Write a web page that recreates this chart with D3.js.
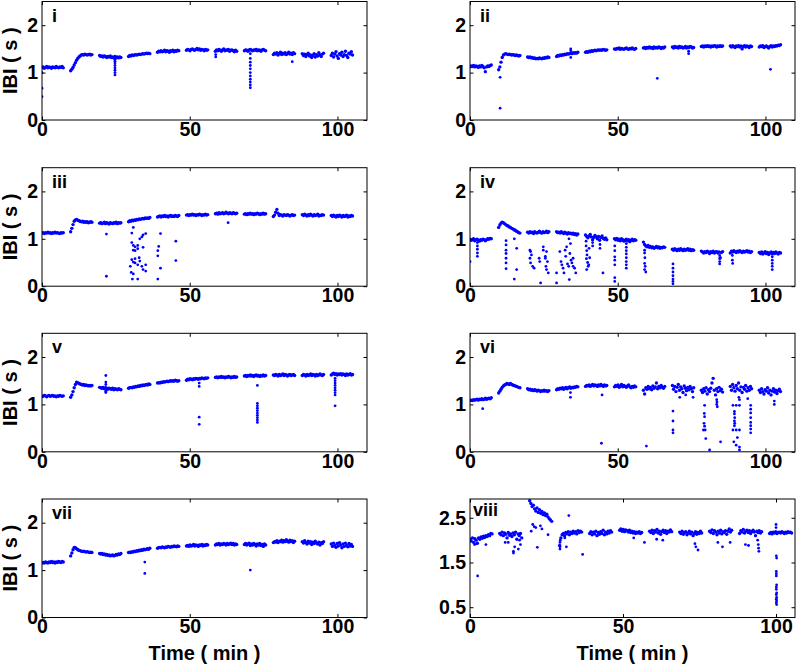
<!DOCTYPE html>
<html><head><meta charset="utf-8">
<script src="https://cdn.jsdelivr.net/npm/d3@7"></script>
<style>
body{margin:0;background:#fff}
svg{display:block}
text{font-family:"Liberation Sans",Arial,sans-serif;font-weight:bold;fill:#000}
</style>
</head><body>
<svg id="chart" width="796" height="669"></svg>
<script>
// Recording segments: start time (min) of each segment, samples every 0.4 min
const segStart = [0, 9.7, 19.5, 29.3, 39.1, 48.9, 58.7, 68.5, 78.3, 88.1, 97.9];
const sampleStep = 0.4;
const xTicks = [0, 50, 100];
const yTicksStd = [0, 1, 2];
const yTicksViii = [0.5, 1.5, 2.5];
const panelNames = ["i","ii","iii","iv","v","vi","vii","viii"];

const band_i = [
 [1.10,1.12,1.09,1.11,1.13,1.10,1.12,1.11,1.09,1.12,1.11,1.10,1.13,1.11,1.10,1.12,1.11,1.13,1.10],
 [1.04,1.07,1.11,1.16,1.21,1.26,1.30,1.33,1.35,1.37,1.38,1.37,1.39,1.38,1.37,1.38,1.39,1.37,1.38],
 [1.36,1.34,1.35,1.33,1.35,1.34,1.32,1.34,1.33,1.35,1.32,1.33,1.31,1.34,1.32,1.33,1.31,1.33,1.32],
 [1.34,1.36,1.35,1.37,1.36,1.37,1.38,1.37,1.38,1.39,1.38,1.39,1.40,1.39,1.40,1.41,1.40,1.41,1.40],
 [1.43,1.45,1.44,1.46,1.44,1.45,1.47,1.44,1.46,1.45,1.43,1.46,1.45,1.47,1.44,1.46,1.45,1.47,1.46],
 [1.47,1.49,1.48,1.46,1.49,1.50,1.48,1.47,1.49,1.51,1.48,1.50,1.47,1.49,1.48,1.46,1.49,1.47,1.48],
 [1.45,1.48,1.46,1.49,1.47,1.45,1.48,1.50,1.46,1.48,1.47,1.49,1.45,1.47,1.48,1.46,1.44,1.47,1.45],
 [1.46,1.48,1.47,1.45,1.48,1.49,1.47,1.46,1.48,1.47,1.49,1.46,1.48,1.47,1.45,1.48,1.49,1.47,1.46],
 [1.38,1.41,1.39,1.42,1.37,1.40,1.43,1.38,1.41,1.39,1.42,1.38,1.40,1.43,1.39,1.41,1.38,1.42,1.40],
 [1.40,1.36,1.39,1.34,1.38,1.41,1.35,1.37,1.32,1.36,1.40,1.33,1.38,1.35,1.42,1.37,1.34,1.39,1.41],
 [1.36,1.41,1.33,1.39,1.44,1.35,1.30,1.40,1.37,1.43,1.34,1.38,1.45,1.36,1.32,1.41,1.39,1.44,1.37]
];
const out_i = [[0,0.49],[0,0.67],[0,1.0],[24.7,1.28],[24.7,1.24],[24.7,1.20],[24.7,1.15],[24.7,1.10],[24.7,1.05],[24.7,1.0],[24.7,0.95],
 [58.8,1.33],[58.8,1.38],[70.5,1.40],[70.5,1.30],[70.5,1.22],[70.5,1.15],[70.5,1.08],[70.5,1.0],[70.5,0.93],[70.5,0.86],[70.5,0.80],[70.5,0.74],[70.5,0.68],[84.7,1.23]];

const band_ii = [
 [1.12,1.14,1.13,1.15,1.12,1.14,1.13,1.11,1.14,1.12,1.15,1.13,1.10,1.02,1.12,1.14,1.13,1.15,1.16],
 [1.06,1.12,1.22,1.32,1.37,1.39,1.40,1.39,1.38,1.39,1.38,1.37,1.38,1.37,1.36,1.37,1.36,1.35,1.36],
 [1.33,1.32,1.33,1.31,1.32,1.30,1.31,1.29,1.30,1.29,1.31,1.30,1.29,1.31,1.30,1.32,1.31,1.33,1.32],
 [1.34,1.36,1.35,1.37,1.36,1.38,1.37,1.39,1.38,1.40,1.39,1.40,1.41,1.40,1.42,1.41,1.42,1.41,1.43],
 [1.43,1.44,1.43,1.45,1.44,1.46,1.45,1.46,1.47,1.46,1.47,1.48,1.47,1.48,1.47,1.49,1.48,1.47,1.48],
 [1.50,1.49,1.51,1.50,1.52,1.49,1.51,1.50,1.49,1.51,1.52,1.50,1.49,1.51,1.50,1.52,1.50,1.49,1.51],
 [1.52,1.53,1.51,1.53,1.52,1.54,1.52,1.53,1.51,1.54,1.52,1.53,1.52,1.54,1.53,1.51,1.53,1.52,1.54],
 [1.54,1.52,1.55,1.53,1.54,1.52,1.55,1.53,1.54,1.52,1.53,1.55,1.52,1.54,1.53,1.55,1.54,1.52,1.53],
 [1.55,1.56,1.54,1.56,1.55,1.57,1.55,1.56,1.54,1.56,1.55,1.57,1.56,1.54,1.56,1.55,1.57,1.55,1.56],
 [1.56,1.54,1.57,1.55,1.53,1.56,1.55,1.57,1.54,1.56,1.50,1.55,1.57,1.54,1.56,1.55,1.53,1.56,1.55],
 [1.54,1.56,1.55,1.57,1.53,1.55,1.56,1.54,1.52,1.55,1.57,1.54,1.56,1.55,1.57,1.56,1.58,1.57,1.59]
];
const out_ii = [[10.2,0.90],[10.2,0.25],[34.1,1.32],[34.1,1.46],[34.1,1.50],[63.4,0.88],[74.0,1.45],[74.0,1.40],[101.7,1.07]];

const band_iii = [
 [1.12,1.13,1.11,1.13,1.12,1.14,1.12,1.13,1.11,1.13,1.12,1.14,1.12,1.13,1.12,1.11,1.13,1.12,1.13],
 [1.15,1.22,1.30,1.37,1.40,1.41,1.39,1.38,1.37,1.36,1.37,1.35,1.36,1.35,1.36,1.34,1.35,1.36,1.35],
 [1.33,1.34,1.32,1.33,1.35,1.32,1.34,1.33,1.31,1.34,1.33,1.32,1.34,1.33,1.35,1.32,1.34,1.33,1.34],
 [1.36,1.38,1.37,1.39,1.38,1.40,1.39,1.41,1.40,1.42,1.41,1.42,1.43,1.42,1.44,1.43,1.44,1.43,1.45],
 [1.46,1.47,1.48,1.46,1.48,1.47,1.49,1.47,1.48,1.46,1.48,1.49,1.47,1.48,1.47,1.49,1.48,1.47,1.49],
 [1.50,1.51,1.49,1.51,1.50,1.52,1.50,1.51,1.49,1.51,1.50,1.52,1.51,1.49,1.51,1.50,1.52,1.50,1.51],
 [1.53,1.54,1.52,1.55,1.53,1.54,1.55,1.53,1.54,1.56,1.54,1.53,1.55,1.54,1.53,1.55,1.54,1.53,1.54],
 [1.52,1.53,1.51,1.53,1.52,1.54,1.52,1.53,1.51,1.53,1.52,1.54,1.53,1.51,1.53,1.52,1.54,1.52,1.53],
 [1.47,1.50,1.56,1.62,1.54,1.49,1.51,1.50,1.48,1.51,1.50,1.49,1.51,1.50,1.48,1.50,1.51,1.49,1.50],
 [1.51,1.49,1.52,1.50,1.48,1.51,1.49,1.52,1.50,1.48,1.51,1.49,1.50,1.52,1.48,1.50,1.49,1.51,1.50],
 [1.49,1.47,1.50,1.48,1.46,1.49,1.47,1.50,1.48,1.46,1.49,1.47,1.48,1.50,1.46,1.48,1.47,1.49,1.48]
];
const out_iii = [[21.8,1.10],[21.8,0.21],[30.9,1.24],[30.4,1.12],[34.2,1.08],[35.1,1.11],[33.8,1.04],[33.1,1.0],[30.4,0.92],[30.9,0.86],
 [31.5,0.83],[32.4,0.86],[32.4,0.79],[30.9,0.76],[31.5,0.75],[34.2,0.82],[30.4,0.56],[31.5,0.58],[30.9,0.51],[31.5,0.49],[32.4,0.45],
 [33.1,0.53],[33.8,0.42],[34.2,0.35],[35.1,0.32],[35.1,0.45],[29.9,0.42],[30.2,0.29],[30.9,0.26],[30.6,0.15],[32.4,0.15],[32.9,0.60],
 [40.1,1.11],[39.2,0.75],[39.5,0.84],[39.2,0.64],[40.1,0.38],[39.2,0.15],[45.3,0.95],[45.3,0.54],[63.0,1.34]];

const band_iv = [
 [0.99,0.97,0.98,1.00,0.96,0.98,0.99,0.97,0.95,0.98,0.97,0.99,0.98,0.96,0.98,1.00,0.99,1.01,1.00],
 [1.24,1.29,1.33,1.35,1.34,1.32,1.30,1.28,1.27,1.25,1.24,1.22,1.21,1.19,1.18,1.16,1.15,1.13,1.12],
 [1.14,1.12,1.15,1.13,1.14,1.11,1.15,1.13,1.12,1.14,1.16,1.13,1.12,1.15,1.13,1.14,1.16,1.13,1.15],
 [1.15,1.13,1.14,1.12,1.15,1.13,1.11,1.14,1.12,1.10,1.13,1.11,1.12,1.10,1.12,1.09,1.11,1.08,1.10],
 [1.08,1.05,1.02,1.06,1.09,1.04,0.98,1.03,1.07,1.04,1.00,1.05,0.97,1.03,1.06,1.01,0.99,1.02,0.98],
 [1.00,0.98,1.01,0.97,0.99,0.96,1.00,0.98,0.95,0.97,0.99,0.96,0.98,0.94,0.97,0.99,0.96,0.98,0.97],
 [0.93,0.88,0.85,0.83,0.86,0.82,0.84,0.81,0.83,0.80,0.82,0.84,0.81,0.83,0.80,0.82,0.81,0.83,0.82],
 [0.78,0.76,0.79,0.77,0.75,0.78,0.76,0.79,0.77,0.75,0.78,0.76,0.77,0.79,0.76,0.78,0.75,0.77,0.76],
 [0.74,0.72,0.70,0.73,0.71,0.74,0.72,0.69,0.73,0.71,0.74,0.70,0.72,0.73,0.70,0.72,0.60,0.71,0.73],
 [0.70,0.74,0.72,0.75,0.73,0.71,0.74,0.72,0.75,0.73,0.71,0.74,0.72,0.73,0.75,0.72,0.74,0.71,0.73],
 [0.71,0.69,0.72,0.68,0.70,0.73,0.69,0.71,0.67,0.70,0.72,0.68,0.71,0.69,0.72,0.70,0.68,0.71,0.70]
];
const out_iv = [[0,0.52],[2.5,0.92],[2.5,0.85],[2.5,0.78],[2.5,0.70],[2.5,0.63],
 [12.2,0.96],[12.2,0.87],[12.2,0.76],[12.2,0.69],[12.2,0.59],[12.2,0.49],[12.2,0.37],[15.8,0.80],[15.8,0.35],[15.0,0.15],[15.0,1.0],
 [20.3,0.76],[20.8,0.66],[20.3,0.59],[20.5,0.49],[21.2,0.42],[21.7,0.38],[20.5,0.73],[23.4,0.59],[23.6,0.52],[23.9,0.07],[24.8,0.83],
 [24.8,0.76],[25.5,0.59],[25.9,0.73],[25.7,0.42],[26.2,0.52],[25.9,0.35],[26.5,0.28],[25.5,0.63],
 [29.3,0.28],[29.3,0.07],[30.4,0.73],[30.8,0.52],[31.1,0.45],[31.5,0.38],[31.8,0.28],[32.2,0.76],[32.4,0.63],[32.7,0.83],[33.0,0.47],
 [33.4,0.42],[33.6,0.14],[33.8,0.69],[34.2,0.55],[34.5,0.49],[34.9,0.42],[34.9,0.59],[35.4,0.38],[35.8,0.28],[34.0,0.90],[33.5,1.0],
 [39.3,0.95],[39.3,0.85],[39.5,0.75],[39.6,0.66],[39.4,0.58],[39.8,0.50],[40.0,0.42],[39.5,0.35],[40.3,0.80],[40.5,0.60],[40.2,0.45],
 [41.5,0.92],[41.5,0.85],[44.0,0.88],[44.0,0.80],[45.0,0.28],
 [49.0,0.85],[49.0,0.75],[49.0,0.62],[49.0,0.55],[49.0,0.45],[49.0,0.18],[49.0,0.10],
 [52.9,0.90],[52.9,0.82],[52.9,0.75],[52.9,0.68],[52.9,0.60],[52.9,0.52],[52.9,0.45],[52.9,0.38],
 [59.1,0.76],[59.1,0.70],[59.2,0.60],[59.1,0.48],[59.3,0.42],[59.1,0.35],[59.5,0.30],
 [68.7,0.47],[68.7,0.38],[68.7,0.30],[68.7,0.22],[68.7,0.15],[68.7,0.10],[68.7,0.05],
 [84.5,0.65],[84.5,0.58],[84.5,0.52],[84.5,0.47],[88.8,0.65],[88.8,0.55],[88.9,0.48],
 [102.3,0.62],[102.3,0.55],[102.3,0.48],[102.3,0.42],[102.3,0.35]];

const band_v = [
 [1.18,1.17,1.19,1.18,1.16,1.18,1.19,1.17,1.18,1.19,1.17,1.18,1.16,1.18,1.17,1.19,1.18,1.17,1.18],
 [1.15,1.20,1.27,1.35,1.42,1.47,1.46,1.44,1.43,1.42,1.41,1.42,1.40,1.41,1.40,1.39,1.40,1.39,1.40],
 [1.36,1.35,1.34,1.36,1.33,1.35,1.34,1.32,1.34,1.33,1.32,1.34,1.31,1.33,1.32,1.31,1.33,1.32,1.31],
 [1.34,1.35,1.36,1.35,1.37,1.36,1.38,1.37,1.39,1.38,1.40,1.39,1.41,1.40,1.41,1.42,1.41,1.43,1.42],
 [1.45,1.46,1.45,1.47,1.46,1.48,1.47,1.48,1.49,1.48,1.49,1.50,1.49,1.50,1.49,1.51,1.50,1.49,1.50],
 [1.51,1.53,1.52,1.54,1.53,1.52,1.54,1.53,1.55,1.54,1.53,1.55,1.54,1.56,1.55,1.54,1.56,1.55,1.56],
 [1.57,1.58,1.56,1.58,1.57,1.59,1.57,1.58,1.56,1.58,1.57,1.59,1.58,1.56,1.58,1.57,1.59,1.57,1.58],
 [1.60,1.61,1.59,1.61,1.60,1.62,1.60,1.61,1.59,1.61,1.62,1.60,1.61,1.59,1.61,1.60,1.62,1.60,1.61],
 [1.62,1.61,1.63,1.62,1.60,1.63,1.61,1.62,1.64,1.61,1.63,1.62,1.60,1.62,1.63,1.61,1.62,1.63,1.61],
 [1.61,1.63,1.62,1.60,1.63,1.61,1.62,1.64,1.61,1.63,1.62,1.60,1.63,1.61,1.62,1.64,1.62,1.61,1.63],
 [1.62,1.64,1.66,1.63,1.65,1.62,1.64,1.63,1.65,1.62,1.64,1.63,1.61,1.64,1.62,1.63,1.65,1.62,1.63]
];
const out_v = [[21.6,1.25],[21.6,1.28],[21.6,1.42],[21.6,1.47],[21.6,1.61],[53.2,1.45],[53.2,1.38],[53.2,0.73],[53.2,0.58],
 [72.9,1.40],[72.9,1.02],[72.9,0.97],[72.9,0.92],[72.9,0.87],[72.9,0.82],[72.9,0.77],[72.9,0.72],[72.9,0.67],[72.9,0.62],
 [99.2,1.55],[99.2,1.50],[99.2,1.45],[99.2,1.40],[99.2,1.35],[99.2,1.30],[99.2,1.25],[99.2,1.20],[99.2,0.97]];

const band_vi = [
 [1.08,1.09,1.08,1.10,1.09,1.10,1.11,1.09,1.11,1.10,1.12,1.10,1.11,1.13,1.11,1.12,1.13,1.12,1.14],
 [1.24,1.28,1.32,1.36,1.39,1.41,1.42,1.44,1.43,1.42,1.44,1.42,1.41,1.40,1.39,1.38,1.37,1.36,1.35],
 [1.33,1.31,1.32,1.30,1.31,1.29,1.31,1.30,1.28,1.30,1.29,1.27,1.29,1.28,1.30,1.28,1.29,1.27,1.29],
 [1.31,1.33,1.32,1.34,1.33,1.35,1.32,1.34,1.36,1.33,1.35,1.37,1.34,1.36,1.35,1.37,1.36,1.38,1.37],
 [1.38,1.40,1.39,1.41,1.38,1.40,1.42,1.39,1.41,1.40,1.38,1.41,1.39,1.42,1.40,1.38,1.41,1.39,1.40],
 [1.37,1.40,1.38,1.41,1.36,1.39,1.42,1.37,1.40,1.38,1.36,1.39,1.41,1.37,1.35,1.38,1.36,1.39,1.37],
 [1.30,1.22,1.35,1.32,1.38,1.33,1.36,1.31,1.39,1.34,1.37,1.45,1.33,1.38,1.35,1.40,1.36,1.34,1.38],
 [1.40,1.32,1.38,1.27,1.36,1.42,1.30,1.37,1.33,1.25,1.39,1.34,1.29,1.36,1.31,1.38,1.33,1.27,1.35],
 [1.30,1.25,1.33,1.28,1.35,1.22,1.31,1.27,1.34,1.45,1.55,1.30,1.20,1.33,1.27,1.36,1.29,1.32,1.26],
 [1.38,1.30,1.42,1.35,1.28,1.40,1.33,1.45,1.30,1.37,1.25,1.36,1.32,1.40,1.28,1.35,1.30,1.38,1.33],
 [1.30,1.25,1.33,1.27,1.22,1.31,1.28,1.35,1.24,1.30,1.20,1.28,1.33,1.26,1.30,1.23,1.29,1.32,1.27]
];
const out_vi = [[4.3,0.91],[34.0,1.15],[34.0,1.25],[44.7,1.20],[44.5,0.18],[59.7,0.12],[71.0,1.15],[73.0,1.20],[75.5,1.15],
 [68.7,0.86],[68.7,0.65],[68.7,0.46],[68.7,0.40],[83.5,1.10],[83.6,1.05],[83.5,1.0],[83.7,0.95],
 [79.4,0.98],[79.3,0.81],[79.4,0.74],[79.2,0.60],[79.4,0.54],[79.0,0.46],[79.6,0.46],[79.8,0.28],[81.1,0.04],[84.8,0.21],
 [91.0,1.15],[91.2,1.10],[94.0,1.12],[89.0,0.98],[90.1,0.98],[91.2,0.98],[89.5,0.85],[89.5,0.80],[89.6,0.72],[89.5,0.65],
 [89.6,0.60],[89.5,0.55],[89.0,0.46],[90.1,0.46],[91.2,0.46],[89.3,0.21],[90.1,0.14],[91.2,0.10],[91.2,0.04],[90.5,0.30],
 [95.0,0.98],[95.0,0.90],[95.0,0.82],[95.0,0.72],[95.0,0.62],[95.0,0.55],[95.0,0.48],[95.0,0.40],[103.0,1.0],[103.0,1.07]];

const band_vii = [
 [1.15,1.16,1.15,1.17,1.16,1.15,1.17,1.16,1.18,1.16,1.17,1.15,1.17,1.16,1.18,1.17,1.16,1.18,1.17],
 [1.30,1.36,1.43,1.48,1.47,1.45,1.43,1.42,1.41,1.40,1.39,1.40,1.39,1.38,1.39,1.38,1.37,1.38,1.37],
 [1.35,1.34,1.35,1.33,1.34,1.32,1.33,1.31,1.32,1.30,1.31,1.32,1.30,1.31,1.33,1.32,1.34,1.33,1.35],
 [1.37,1.38,1.37,1.39,1.38,1.40,1.39,1.41,1.40,1.42,1.41,1.43,1.42,1.44,1.43,1.44,1.45,1.44,1.46],
 [1.46,1.47,1.48,1.47,1.49,1.48,1.47,1.49,1.48,1.50,1.49,1.48,1.50,1.49,1.51,1.50,1.49,1.51,1.50],
 [1.51,1.52,1.50,1.53,1.51,1.52,1.54,1.51,1.53,1.52,1.50,1.53,1.52,1.54,1.51,1.53,1.52,1.54,1.53],
 [1.53,1.55,1.54,1.56,1.53,1.55,1.54,1.56,1.55,1.53,1.56,1.54,1.55,1.57,1.54,1.56,1.53,1.55,1.54],
 [1.54,1.56,1.53,1.55,1.57,1.52,1.55,1.53,1.56,1.54,1.51,1.55,1.53,1.56,1.52,1.54,1.50,1.55,1.53],
 [1.58,1.60,1.59,1.62,1.58,1.61,1.60,1.63,1.59,1.62,1.60,1.64,1.61,1.59,1.63,1.60,1.62,1.58,1.61],
 [1.60,1.57,1.62,1.58,1.55,1.61,1.57,1.60,1.54,1.59,1.56,1.61,1.57,1.55,1.59,1.53,1.58,1.56,1.60],
 [1.55,1.50,1.57,1.52,1.48,1.56,1.51,1.58,1.53,1.47,1.55,1.50,1.57,1.52,1.49,1.56,1.51,1.54,1.50]
];
const out_vii = [[34.8,1.17],[34.8,0.93],[70.5,1.0]];

const band_viii = [
 [2.02,1.98,2.05,1.95,2.03,2.00,1.93,2.05,2.02,2.07,2.04,2.09,2.06,2.10,2.08,2.12,2.10,2.15,2.14],
 [2.15,2.12,2.18,2.10,2.16,2.13,2.05,2.17,2.11,2.14,2.08,2.16,2.12,2.18,2.02,2.14,2.10,2.15,2.05],
 [2.88,2.82,2.75,2.78,2.70,2.65,2.72,2.62,2.68,2.60,2.64,2.57,2.61,2.55,2.58,2.52,2.48,2.45,2.42],
 [1.88,2.05,2.12,2.15,2.10,2.17,2.14,2.19,2.12,2.18,2.15,2.20,2.16,2.19,2.14,2.21,2.17,2.20,2.18],
 [2.15,2.19,2.12,2.18,2.14,2.20,2.10,2.17,2.13,2.19,2.15,2.22,2.12,2.18,2.14,2.20,2.16,2.21,2.18],
 [2.22,2.25,2.20,2.24,2.19,2.23,2.21,2.18,2.22,2.17,2.20,2.16,2.19,2.15,2.18,2.16,2.19,2.15,2.17],
 [2.20,2.17,2.22,2.15,2.21,2.18,2.24,2.16,2.20,2.13,2.19,2.22,2.17,2.21,2.15,2.20,2.18,2.23,2.19],
 [2.18,2.15,2.20,2.13,2.17,2.19,2.12,2.16,2.20,2.14,2.18,2.10,2.15,2.19,2.13,2.17,2.15,2.20,2.16],
 [2.20,2.17,2.23,2.15,2.21,2.18,2.12,2.20,2.16,2.22,2.14,2.19,2.17,2.21,2.13,2.20,2.25,2.18,2.22],
 [2.15,2.21,2.18,2.24,2.16,2.20,2.22,2.17,2.21,2.15,2.19,2.22,2.18,2.10,2.20,2.17,2.21,2.16,2.19],
 [2.15,2.17,2.14,2.18,2.16,2.19,2.15,2.17,2.18,2.16,2.19,2.17,2.15,2.18,2.16,2.19,2.17,2.18,2.16]
];
const out_viii = [[2.5,1.20],[1.5,1.90],[2.2,1.92],[5.2,1.90],[11.5,1.95],[12.5,1.95],[14.2,1.71],[14.2,1.75],[14.6,1.85],[15.8,1.80],
 [16.5,1.90],[16.2,2.0],[20.0,2.20],[20.5,2.35],[21.0,2.30],[22.0,1.84],[23.0,2.32],[21.5,2.28],[25.5,2.12],[23.5,2.25],
 [29.4,1.80],[29.4,1.85],[29.4,1.95],[29.5,2.0],[31.5,1.85],[32.3,2.55],[36.8,1.68],[31.0,2.05],[53.5,2.05],[57.0,1.95],
 [61.0,2.02],[63.0,2.0],[73.5,1.92],[73.8,1.85],[74.5,1.78],[81.0,1.95],[82.5,1.85],[85.0,1.95],[90.0,1.90],[91.0,1.88],
 [94.0,2.0],[94.2,1.90],[94.3,1.82],[94.4,1.75],[100.0,2.35],[100.0,2.28],[100.1,1.65],[100.2,1.60],[100.1,1.30],[100.1,1.25],
 [100.1,1.20],[100.2,1.0],[100.1,0.95],[100.1,0.90],[100.2,0.82],[100.1,0.78],[100.2,0.72],[100.1,0.68],[100.2,0.64],[100.1,0.60],[100.2,0.56]];

const bands = [band_i, band_ii, band_iii, band_iv, band_v, band_vi, band_vii, band_viii];
const outs = [out_i, out_ii, out_iii, out_iv, out_v, out_vi, out_vii, out_viii];
const xMaxes = [110, 110, 110, 110, 110, 110, 110, 106.2];
const yDomains = [[0,2.5],[0,2.5],[0,2.5],[0,2.5],[0,2.5],[0,2.5],[0,2.5],[0.27,2.92]];

// ---- layout ----
const colLeft = [42, 470], plotW = 325;
const rowTop = [1.5, 167.7, 333.3, 499], plotH = 118.5;
const blue = "#0000ff";

const svg = d3.select("#chart");
svg.append("rect").attr("width",796).attr("height",669).attr("fill","#fff");

panelNames.forEach((name, p) => {
  const col = p % 2, row = Math.floor(p / 2);
  const x0 = colLeft[col], y0 = rowTop[row];
  const x = d3.scaleLinear().domain([0, xMaxes[p]]).range([0, plotW]);
  const y = d3.scaleLinear().domain(yDomains[p]).range([plotH, 0]);
  const yt = p === 7 ? yTicksViii : yTicksStd;
  const g = svg.append("g").attr("transform", `translate(${x0},${y0})`);

  g.append("clipPath").attr("id", "clip" + p).append("rect").attr("width", plotW).attr("height", plotH);

  const bandPts = [];
  bands[p].forEach((seg, k) => seg.forEach((v, j) => bandPts.push([segStart[k] + j * sampleStep, v])));
  const cg = g.append("g").attr("clip-path", `url(#clip${p})`);
  cg.append("g").selectAll("circle").data(bandPts).join("circle")
    .attr("cx", d => x(d[0])).attr("cy", d => y(d[1])).attr("r", 1.7).attr("fill", blue);
  cg.append("g").selectAll("circle").data(outs[p]).join("circle")
    .attr("cx", d => x(d[0])).attr("cy", d => y(d[1])).attr("r", 1.4).attr("fill", blue);

  // axes
  const style = sel => { sel.select(".domain").remove(); sel.selectAll("line").attr("stroke","#000"); sel.attr("font-family",null).attr("font-size",null); };
  g.append("g").attr("transform", `translate(0,${plotH})`)
    .call(d3.axisBottom(x).tickValues(xTicks).tickSize(-3.5).tickPadding(2).tickFormat(d3.format("d")))
    .call(style).selectAll("text").attr("font-size", 19.5);
  g.append("g").call(d3.axisTop(x).tickValues(xTicks).tickSize(-3.5).tickFormat("")).call(style);
  g.append("g")
    .call(d3.axisLeft(y).tickValues(yt).tickSize(-3.5).tickPadding(4).tickFormat(p === 7 ? d3.format(".1f") : d3.format("d")))
    .call(style).selectAll("text").attr("font-size", 19.5);
  g.append("g").attr("transform", `translate(${plotW},0)`).call(d3.axisRight(y).tickValues(yt).tickSize(-3.5).tickFormat("")).call(style);

  g.append("rect").attr("width", plotW).attr("height", plotH).attr("fill","none").attr("stroke","#000").attr("stroke-width",1);

  // panel label
  g.append("text").attr("x", p === 7 ? 3 : 10).attr("y", p === 7 ? 17 : 20).attr("font-size", 18).text(name);

  if (col === 0) {
    svg.append("text").attr("transform", `translate(17,${y0 + plotH/2}) rotate(-90)`)
      .attr("text-anchor","middle").attr("font-size", 20).text("IBI ( s )");
  }
  if (row === 3) {
    svg.append("text").attr("x", x0 + plotW/2).attr("y", 660).attr("text-anchor","middle").attr("font-size", 20).text("Time ( min )");
  }
});
</script>
</body></html>
